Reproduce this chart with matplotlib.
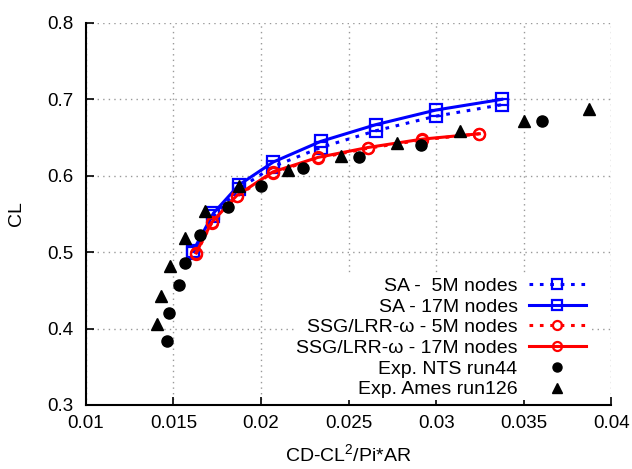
import matplotlib
matplotlib.use("Agg")
import matplotlib.pyplot as plt

# SA (blue) and SSG/LRR-omega (red), 5M and 17M node grids
sa_x = [0.01613, 0.01728, 0.01874, 0.0207, 0.02341, 0.02657, 0.02998, 0.03375]
sa_17m_cl = [0.502, 0.551, 0.588, 0.618, 0.645, 0.667, 0.686, 0.700]
sa_5m_cl = [0.499, 0.547, 0.583, 0.612, 0.637, 0.659, 0.678, 0.693]

ssg_x = [0.01629, 0.01718, 0.01861, 0.02067, 0.02324, 0.0261, 0.02922, 0.03247]
ssg_17m_cl = [0.499, 0.539, 0.574, 0.605, 0.624, 0.637, 0.648, 0.655]
ssg_5m_cl = [0.498, 0.538, 0.573, 0.604, 0.623, 0.636, 0.647, 0.655]

# experiments
nts_x = [0.01461, 0.01476, 0.0153, 0.01567, 0.01651, 0.0181, 0.01998, 0.02242,
         0.02558, 0.02913, 0.03606]
nts_cl = [0.384, 0.420, 0.457, 0.486, 0.522, 0.559, 0.586, 0.610, 0.624, 0.640, 0.672]

ames_x = [0.01404, 0.01427, 0.0148, 0.01566, 0.0168, 0.01876, 0.02156, 0.02457,
          0.02775, 0.03137, 0.03503, 0.03873]
ames_cl = [0.406, 0.442, 0.482, 0.519, 0.554, 0.586, 0.608, 0.626, 0.643, 0.659,
           0.672, 0.688]

xticks = [0.01, 0.015, 0.02, 0.025, 0.03, 0.035, 0.04]
xtick_labels = ["0.01", "0.015", "0.02", "0.025", "0.03", "0.035", "0.04"]
yticks = [0.3, 0.4, 0.5, 0.6, 0.7, 0.8]
ytick_labels = ["0.3", "0.4", "0.5", "0.6", "0.7", "0.8"]

plt.rcParams["font.family"] = ["Liberation Sans", "DejaVu Sans"]
plt.rcParams["mathtext.default"] = "regular"

fig = plt.figure(figsize=(6.32, 4.69), dpi=100)
ax = fig.add_axes([0.136, 0.1365, 0.831, 0.8145])

dots = (0, (1.2, 2.2))
ax.plot(sa_x, sa_5m_cl, color="#0000ff", ls=dots, lw=2.2, marker="s", ms=8,
        mfc="none", mew=1.6, label="SA -  5M nodes")
ax.plot(sa_x, sa_17m_cl, color="#0000ff", ls="-", lw=2.2, marker="s", ms=8,
        mfc="none", mew=1.6, label="SA - 17M nodes")
ax.plot(ssg_x, ssg_5m_cl, color="#ff0000", ls=dots, lw=2.2, marker="o", ms=8,
        mfc="none", mew=1.6, label="SSG/LRR-ω - 5M nodes")
ax.plot(ssg_x, ssg_17m_cl, color="#ff0000", ls="-", lw=2.2, marker="o", ms=8,
        mfc="none", mew=1.6, label="SSG/LRR-ω - 17M nodes")
ax.plot(nts_x, nts_cl, ls="none", marker="o", ms=8, color="black",
        label="Exp. NTS run44")
ax.plot(ames_x, ames_cl, ls="none", marker="^", ms=8, color="black",
        label="Exp. Ames run126")

ax.set_xlim(0.01, 0.04)
ax.set_ylim(0.3, 0.8)
ax.set_xticks(xticks)
ax.set_xticklabels(xtick_labels)
ax.set_yticks(yticks)
ax.set_yticklabels(ytick_labels)
ax.tick_params(direction="in", length=6, width=1.2, labelsize=13.5)
ax.tick_params(axis="x", pad=7)
ax.tick_params(axis="y", pad=9)
ax.grid(True, color="#999999", ls=(0, (1, 3)), lw=1)
ax.spines["top"].set_visible(False)
ax.spines["right"].set_visible(False)
ax.spines["left"].set_linewidth(1.5)
ax.spines["bottom"].set_linewidth(1.5)

ax.set_xlabel("CD-CL$^2$/Pi*AR", fontsize=14, labelpad=8)
ax.set_ylabel("CL", fontsize=14, labelpad=16)

leg = ax.legend(loc="lower right", bbox_to_anchor=(0.955, 0.012),
                markerfirst=False, frameon=True, fontsize=14,
                handlelength=2.9, numpoints=1, labelspacing=0.16,
                borderaxespad=0.0, borderpad=0.1, handletextpad=0.6)
leg.get_frame().set_edgecolor("none")
leg.get_frame().set_facecolor("white")
leg.get_frame().set_alpha(1)
for h in leg.legend_handles:
    h.set_markersize(6.5)
for t in leg.get_texts():
    t.set_ha("right")
leg._legend_box.align = "right"

fig.savefig("out.png", dpi=100)
